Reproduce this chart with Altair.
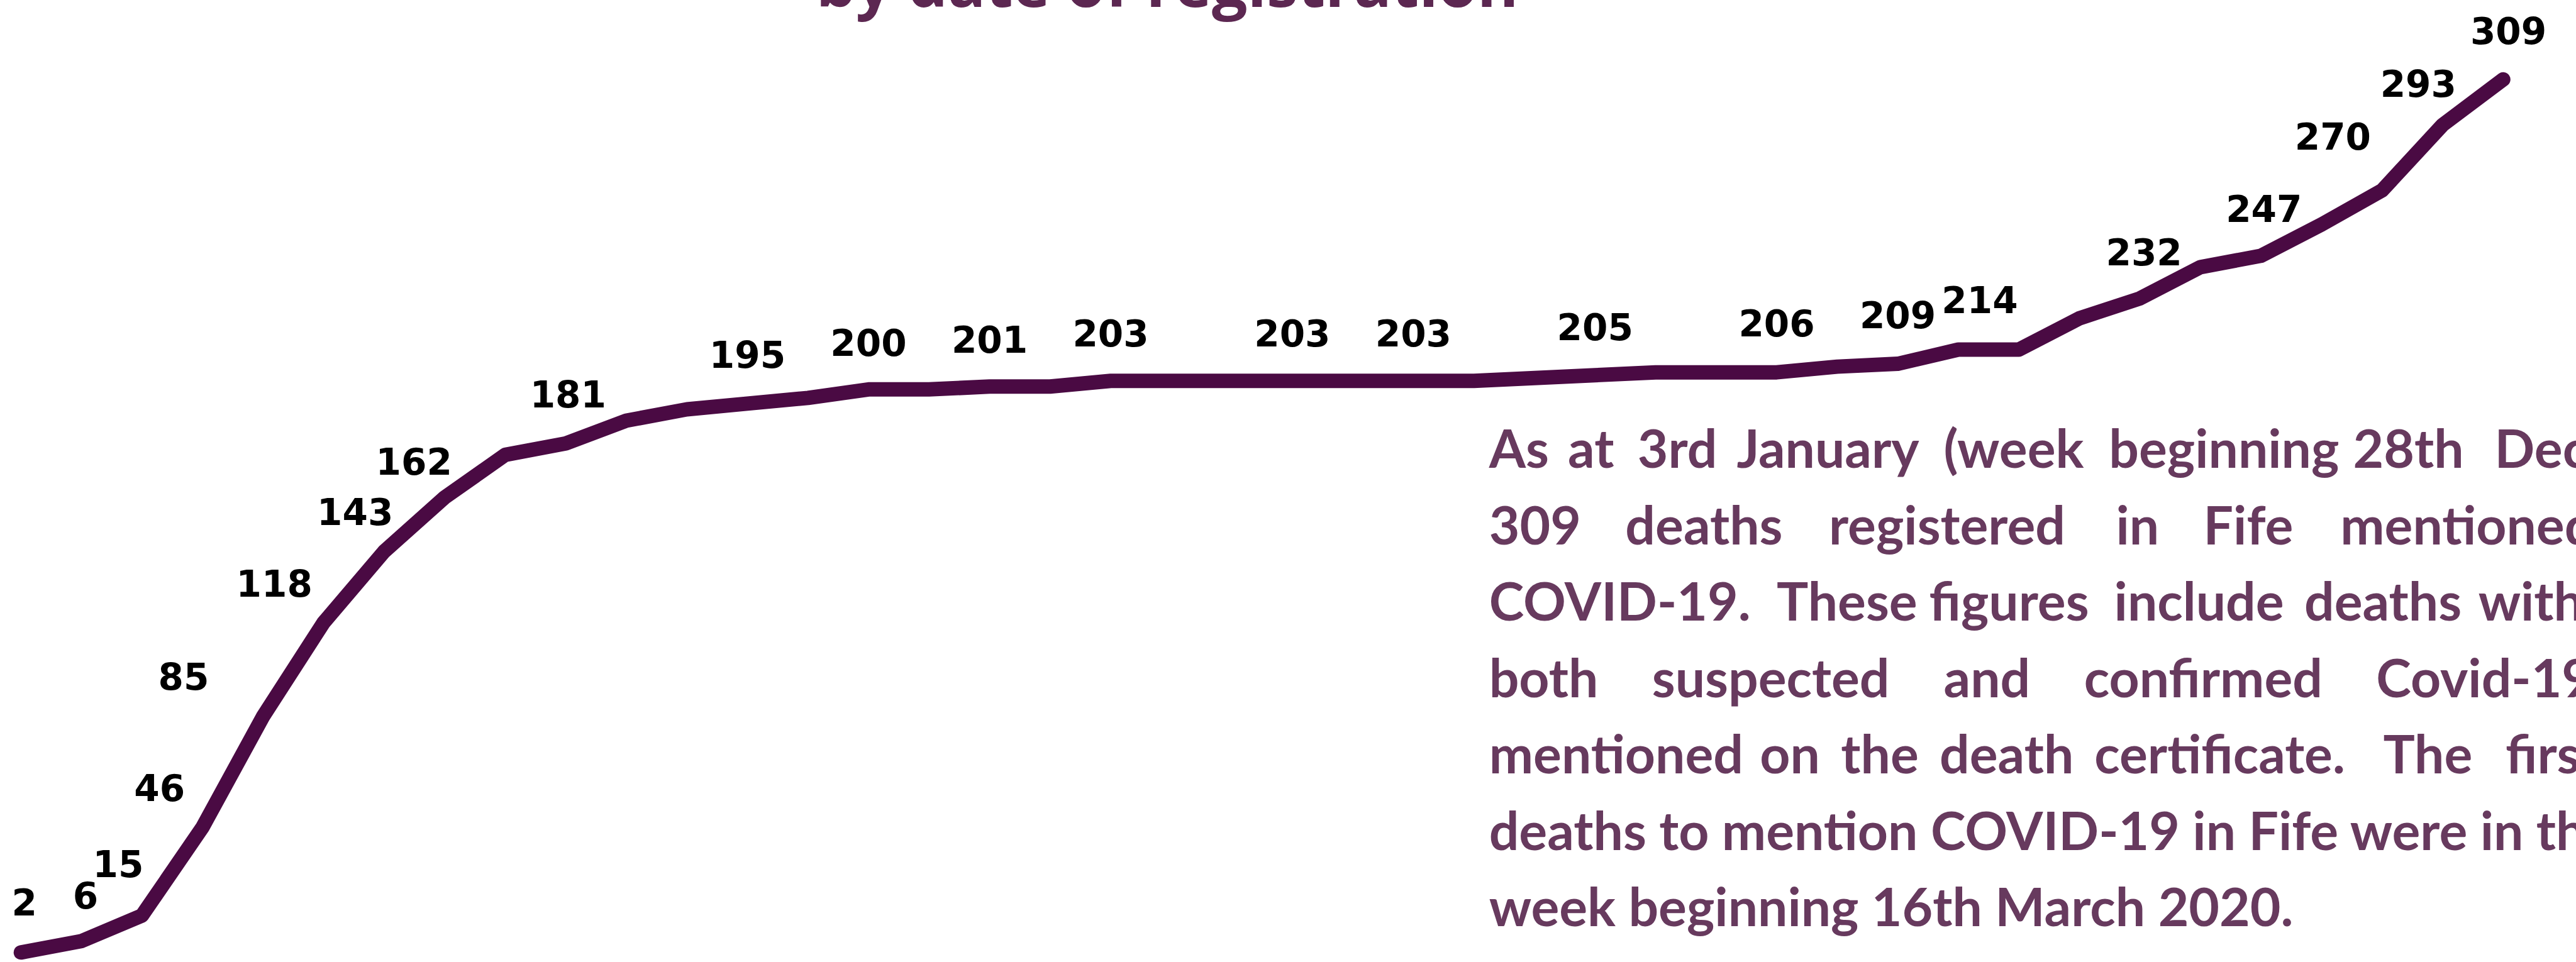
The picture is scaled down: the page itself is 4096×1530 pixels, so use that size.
import altair as alt
import pandas as pd

S = 0.922          # reference -> window scale
W, H = 4096, 1530

# ---------------- data ----------------
week_start = [
    "2020-03-16", "2020-03-23", "2020-03-30", "2020-04-06", "2020-04-13", "2020-04-20",
    "2020-04-27", "2020-05-04", "2020-05-11", "2020-05-18", "2020-05-25", "2020-06-01",
    "2020-06-08", "2020-06-15", "2020-06-22", "2020-06-29", "2020-07-06", "2020-07-13",
    "2020-07-20", "2020-07-27", "2020-08-03", "2020-08-10", "2020-08-17", "2020-08-24",
    "2020-08-31", "2020-09-07", "2020-09-14", "2020-09-21", "2020-09-28", "2020-10-05",
    "2020-10-12", "2020-10-19", "2020-10-26", "2020-11-02", "2020-11-09", "2020-11-16",
    "2020-11-23", "2020-11-30", "2020-12-07", "2020-12-14", "2020-12-21", "2020-12-28",
]
cumulative_deaths = [
    2, 6, 15, 46, 85, 118, 143, 162, 177, 181, 189, 193,
    195, 197, 200, 200, 201, 201, 203, 203, 203, 203, 203, 203,
    203, 204, 205, 206, 206, 206, 208, 209, 214, 214, 225, 232,
    243, 247, 258, 270, 293, 309,
]
# weeks whose value is written on the chart
labelled_weeks = [
    "2020-03-16", "2020-03-23", "2020-03-30", "2020-04-06", "2020-04-13", "2020-04-20",
    "2020-04-27", "2020-05-04", "2020-05-18", "2020-06-08", "2020-06-22", "2020-07-06",
    "2020-07-20", "2020-08-10", "2020-08-24", "2020-09-14", "2020-10-05", "2020-10-19",
    "2020-10-26", "2020-11-16", "2020-11-30", "2020-12-14", "2020-12-21", "2020-12-28",
]
# label nudges (reference pixels): offset of label centre from its point
label_dx = [6, 7, -41, -74, -137, -85, -50, -53, 4, 0, 0, 0,
            0, 0, 0, 0, 0, 0, 37, 7, 5, -85, -42, 9]
label_dy = [-82, -75, -85, -64, -65, -63, -64, -58, -81, -80, -76, -77,
            -78, -78, -78, -79, -80, -80, -81, -75, -77, -89, -67, -80]

title_text = "by date of registration"

# justified paragraph: lines 1-5 placed word by word, last two lines set naturally
note_lines = [
    ["As", "at", "3rd", "January", "(week", "beginning", "28th", "Dec"],
    ["309", "deaths", "registered", "in", "Fife", "mentioned"],
    ["COVID-19.", "These", "figures", "include", "deaths", "with"],
    ["both", "suspected", "and", "confirmed", "Covid-19"],
    ["mentioned", "on", "the", "death", "certificate.", "The", "first"],
    ["deaths to mention COVID-19 in Fife were in the"],
    ["week beginning 16th March 2020."],
]
# word starts (reference pixels)
note_word_x = [
    [2568, 2704, 2824, 2995, 3352, 3637, 4058, 4302],
    [2568, 2803, 3154, 3649, 3800, 4036],
    [2568, 3064, 3327, 3646, 3974, 4274],
    [2568, 2849, 3352, 3594, 4098],
    [2568, 3035, 3175, 3345, 3612, 4110, 4321],
    [2568],
    [2568],
]
note_first_baseline = 807
note_line_gap = 131.8

# ---------------- scales ----------------
x_first_px, x_last_px = 36 * S, 4317 * S
px_per_week = (x_last_px - x_first_px) / (len(week_start) - 1)
x_domain = [-x_first_px / px_per_week,
            (len(week_start) - 1) + (W - x_last_px) / px_per_week]

y_lo_val, y_hi_val = 2, 309
y_lo_px, y_hi_px = 1643 * S, 137 * S
px_per_death = (y_lo_px - y_hi_px) / (y_hi_val - y_lo_val)
y_domain = [y_lo_val - (H - y_lo_px) / px_per_death,
            y_hi_val + y_hi_px / px_per_death]

xs = alt.Scale(domain=x_domain, nice=False, zero=False)
ys = alt.Scale(domain=y_domain, nice=False, zero=False)

series = pd.DataFrame({
    "week": week_start,
    "idx": list(range(len(week_start))),
    "deaths": cumulative_deaths,
})

lab_idx = [week_start.index(w) for w in labelled_weeks]
labels = pd.DataFrame({
    "week": labelled_weeks,
    "deaths": [cumulative_deaths[i] for i in lab_idx],
})
labels["lx"] = [i + dx * S / px_per_week for i, dx in zip(lab_idx, label_dx)]
labels["ly"] = [cumulative_deaths[i] - dy * S / px_per_death for i, dy in zip(lab_idx, label_dy)]
labels["text"] = labels["deaths"].astype(str)

line = alt.Chart(series).mark_line(
    color="#4a0a43", strokeWidth=23, strokeCap="round", strokeJoin="round"
).encode(
    x=alt.X("idx:Q", scale=xs, axis=None),
    y=alt.Y("deaths:Q", scale=ys, axis=None),
    order="idx:Q",
)

value_labels = alt.Chart(labels).mark_text(
    font="DejaVu Sans", fontWeight="bold", fontSize=63 * S, color="#000000",
    baseline="middle", align="center",
).encode(
    x=alt.X("lx:Q", scale=xs, axis=None),
    y=alt.Y("ly:Q", scale=ys, axis=None),
    text="text:N",
)

rows = []
for li, (words, xs_ref) in enumerate(zip(note_lines, note_word_x)):
    for w, xr in zip(words, xs_ref):
        rows.append({"word": w, "px": xr * S,
                     "py": (note_first_baseline + li * note_line_gap) * S})
note_df = pd.DataFrame(rows)

note = alt.Chart(note_df).mark_text(
    font="Lato", fontWeight="bold", fontSize=84, color="#673a5e",
    align="left", baseline="alphabetic",
).encode(
    x=alt.X("px:Q", scale=None, axis=None),
    y=alt.Y("py:Q", scale=None, axis=None),
    text="word:N",
)

title = alt.Chart(pd.DataFrame({"t": [title_text]})).mark_text(
    font="Open Sans", fontWeight="bold", fontSize=100, color="#5c2751",
    align="center", baseline="alphabetic",
).encode(
    x=alt.value(2013 * S),
    y=alt.value(12 * S),
    text="t:N",
)

chart = alt.layer(line, value_labels, note, title).properties(
    width=W, height=H, padding=0, autosize=alt.AutoSizeParams(type="none"),
    background="white",
).configure_view(stroke=None)

chart.save("out.html", embed_options={"renderer": "svg", "actions": False})
